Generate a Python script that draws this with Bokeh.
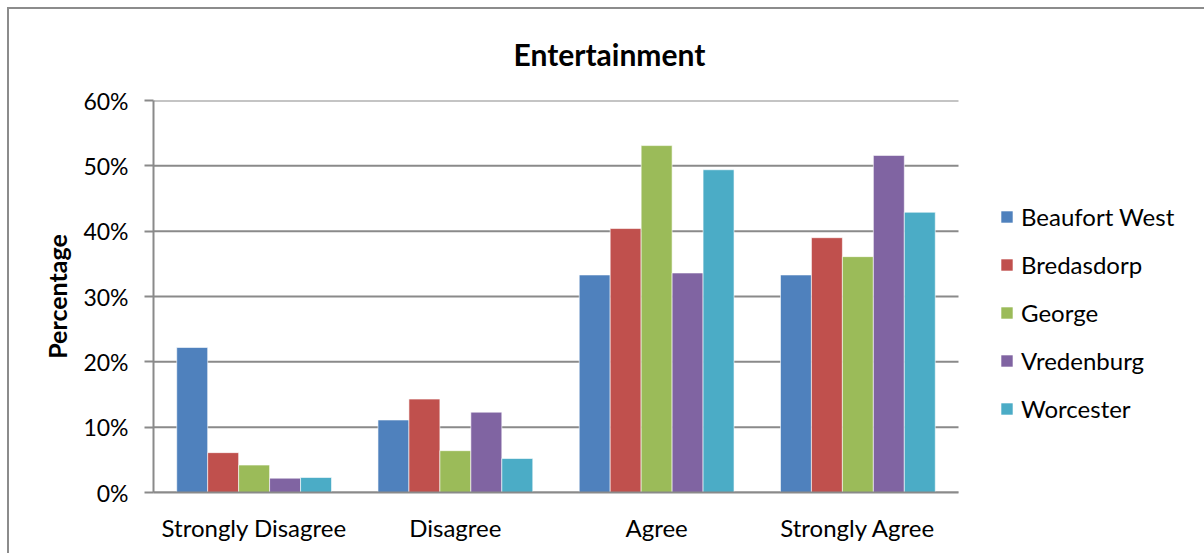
from bokeh.plotting import figure
from bokeh.models import ColumnDataSource, FixedTicker, NumeralTickFormatter, Range1d
from bokeh.transform import dodge
from bokeh.embed import file_html
from bokeh.resources import INLINE

# Survey responses per town, in percent
categories = ["Strongly Disagree", "Disagree", "Agree", "Strongly Agree"]
towns = ["Beaufort West", "Bredasdorp", "George", "Vredenburg", "Worcester"]
beaufort_west = [22.2, 11.1, 33.3, 33.3]
bredasdorp = [6.1, 14.3, 40.4, 39.0]
george = [4.2, 6.4, 53.1, 36.1]
vredenburg = [2.2, 12.3, 33.6, 51.6]
worcester = [2.3, 5.2, 49.4, 42.9]
y_ticks = [0, 10, 20, 30, 40, 50, 60]

series = [beaufort_west, bredasdorp, george, vredenburg, worcester]
colors = ["#4F81BD", "#C0504D", "#9BBB59", "#8064A2", "#4BACC6"]

FONT = "Lato"
GRID = "#8a8a8a"

# Layout in pixels: the bar area is 805 px wide, the frame continues to the right
# so the legend can sit beside the bars.
n = len(categories)
bar_area_px = 805
frame_px = 1051
x_end = n * frame_px / bar_area_px

p = figure(width=1197, height=546, x_range=Range1d(0, x_end),
           y_range=Range1d(0, y_ticks[-1] / 100), output_backend="svg", toolbar_location=None,
           min_border_left=144, min_border_right=2, min_border_top=91,
           min_border_bottom=63, title="Entertainment")
p.background_fill_color = "white"
p.border_fill_color = "white"
p.outline_line_color = None
# chart-area frame drawn around the whole figure
p.styles = {"margin-left": "7px", "margin-top": "7px",
            "border-left": "2px solid #8c8c8c", "border-top": "2px solid #8c8c8c"}

centers = [i + 0.5 for i in range(n)]
src = {"x": centers}
for name, vals in zip(towns, series):
    src[name] = [v / 100 for v in vals]
source = ColumnDataSource(src)

# Horizontal gridlines across the bar area only
p.segment(x0=0, x1=n, y0=[t / 100 for t in y_ticks], y1=[t / 100 for t in y_ticks],
          line_color=GRID, line_width=2)

bar_w = 1 / 6.5
for i, (name, col) in enumerate(zip(towns, colors)):
    p.vbar(x=dodge("x", (i - 2) * bar_w), top=name, width=bar_w,
           source=source, fill_color=col, line_color="white", line_width=0.6,
           legend_label=name)

# Axes
p.yaxis.ticker = FixedTicker(ticks=[t / 100 for t in y_ticks])
p.yaxis.formatter = NumeralTickFormatter(format="0%")
p.yaxis.axis_label = "Percentage"
p.yaxis.axis_label_text_font = FONT
p.yaxis.axis_label_text_font_style = "bold"
p.yaxis.axis_label_text_font_size = "25px"
p.yaxis.axis_label_text_color = "black"
p.yaxis.axis_label_standoff = 8
p.yaxis.major_label_text_font = FONT
p.yaxis.major_label_text_font_size = "23px"
p.yaxis.major_label_text_color = "black"
p.yaxis.major_label_standoff = 16
p.yaxis.major_tick_out = 9
p.yaxis.major_tick_in = 0
p.yaxis.minor_tick_line_color = None
p.yaxis.axis_line_color = GRID
p.yaxis.axis_line_width = 2
p.yaxis.major_tick_line_color = GRID
p.yaxis.major_tick_line_width = 2

p.xaxis.ticker = FixedTicker(ticks=centers)
p.xaxis.major_label_overrides = {c: cat for c, cat in zip(centers, categories)}
p.xaxis.bounds = (0, n)
p.xaxis.major_label_text_font = FONT
p.xaxis.major_label_text_font_size = "24px"
p.xaxis.major_label_text_color = "black"
p.xaxis.major_label_standoff = 14
p.xaxis.major_tick_line_color = None
p.xaxis.minor_tick_line_color = None
p.xaxis.axis_line_color = GRID
p.xaxis.axis_line_width = 2

p.xgrid.grid_line_color = None
p.ygrid.grid_line_color = None

# Title
p.title.text_font = FONT
p.title.text_font_size = "30px"
p.title.text_font_style = "bold"
p.title.text_color = "black"
p.title.align = "left"
p.title.offset = 360
p.title.vertical_align = "top"
p.title.standoff = 53

# Legend to the right of the bars
legend = p.legend[0]
legend.location = (846, 69)
legend.padding = 10
legend.border_line_color = None
legend.background_fill_alpha = 0
legend.label_text_font = FONT
legend.label_text_font_size = "24px"
legend.label_text_color = "black"
legend.label_height = 29
legend.glyph_width = 15
legend.glyph_height = 15
legend.spacing = 19
legend.label_standoff = 7

open("out.html", "w").write(file_html(p, INLINE))
